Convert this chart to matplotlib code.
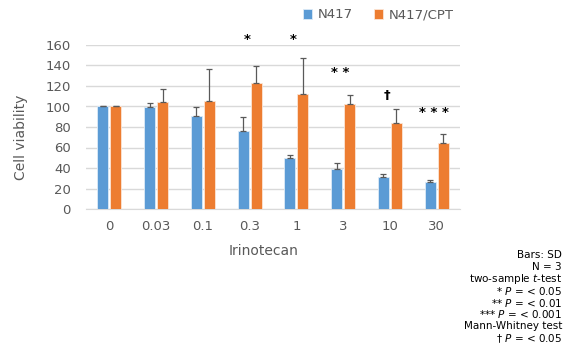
import numpy as np
import matplotlib
matplotlib.use("Agg")
import matplotlib.pyplot as plt

doses = ["0", "0.03", "0.1", "0.3", "1", "3", "10", "30"]
n417 = [100, 99.2, 90.4, 76.1, 49.8, 38.7, 30.9, 26.7]
n417_sd = [0.5, 4.5, 9.1, 13.9, 2.6, 6.5, 3.6, 1.9]
cpt = [100, 104.7, 105.4, 122.9, 111.9, 102.8, 83.9, 64.1]
cpt_sd = [0.5, 12.0, 30.9, 16.9, 35.4, 8.1, 14.0, 8.7]
marks = ["", "", "", "*", "*", "**", "\u2020", "***"]
mark_y = [0, 0, 0, 165, 165, 133, 111, 94]

notes = ["Bars: SD", "N = 3", "two-sample $\\it{t}$-test",
         "* $\\it{P}$ = < 0.05", "** $\\it{P}$ = < 0.01",
         "*** $\\it{P}$ = < 0.001", "Mann-Whitney test",
         "\u2020 $\\it{P}$ = < 0.05"]

blue = "#5B9BD5"
orange = "#ED7D31"
grey = "#595959"

plt.rcParams["font.family"] = ["DejaVu Sans"]
plt.rcParams["mathtext.fontset"] = "dejavusans"

fig = plt.figure(figsize=(5.69, 3.55), dpi=100)
ax = fig.add_axes([86/569, 1 - 209/355, (460-86)/569, (209-45)/355])

x = np.arange(len(doses))
w = 0.235
err_kw = dict(ecolor="#595959", elinewidth=0.9, capsize=2, capthick=0.9)
ax.bar(x - w/2 - 0.02, n417, w, color=blue, edgecolor="#DDEBF7", linewidth=0.6,
       yerr=[np.zeros(len(x)), n417_sd], error_kw=err_kw, label="N417", zorder=3)
ax.bar(x + w/2 + 0.02, cpt, w, color=orange, edgecolor="#FBE5D6", linewidth=0.6,
       yerr=[np.zeros(len(x)), cpt_sd], error_kw=err_kw, label="N417/CPT", zorder=3)

for i, m in enumerate(marks):
    if m:
        ax.text(x[i] - 0.06, mark_y[i], " ".join(m) if m != "\u2020" else m,
                ha="center", va="center", fontsize=9.5, color="black",
                fontweight="bold")

ax.set_xlim(-0.5, len(doses) - 0.5)
ax.set_ylim(0, 160)
ax.set_yticks(np.arange(0, 161, 20))
ax.set_xticks(x)
ax.set_xticklabels(doses)
ax.grid(axis="y", color="#D9D9D9", linewidth=1, zorder=0)
ax.set_axisbelow(True)
for s in ["top", "right", "left"]:
    ax.spines[s].set_visible(False)
ax.spines["bottom"].set_color("#D9D9D9")
ax.tick_params(length=0, colors=grey, labelsize=9.5, pad=8)
ax.tick_params(axis="y", pad=11)
ax.set_xlabel("Irinotecan", color=grey, fontsize=10)
ax.set_ylabel("Cell viability", color=grey, fontsize=10)
ax.xaxis.set_label_coords((264-86)/374, -(244-209)/164)
ax.yaxis.set_label_coords(-(86-28)/374, (209-137)/164)

ax.legend(loc="center left", bbox_to_anchor=((303-86)/374, 1 + (45-15)/164),
          ncol=2, frameon=False, fontsize=9.5, labelcolor=grey,
          handlelength=0.7, handleheight=0.7, columnspacing=1.6,
          handletextpad=0.4, borderaxespad=0, borderpad=0)

for j, t in enumerate(notes):
    fig.text(562/569, 1 - (255 + j*11.9)/355, t, ha="right", va="center",
             fontsize=7.5, color="black")

fig.savefig("out.png", dpi=100)
